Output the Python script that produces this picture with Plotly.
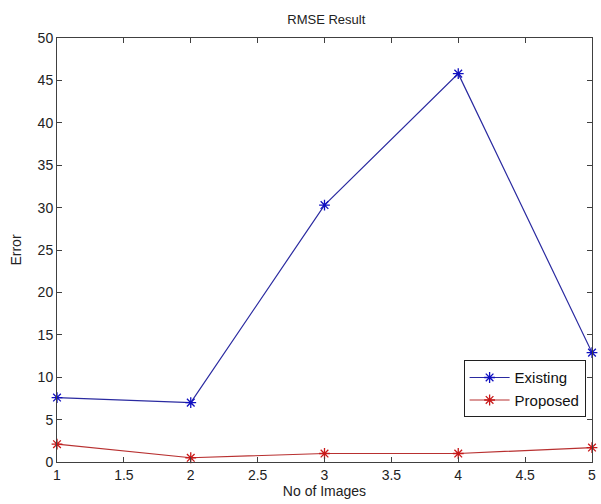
import plotly.graph_objects as go

num_images = [1, 2, 3, 4, 5]
existing = [7.6, 7.0, 30.3, 45.8, 12.9]
proposed = [2.1, 0.5, 1.0, 1.0, 1.7]
x_ticks = [1, 1.5, 2, 2.5, 3, 3.5, 4, 4.5, 5]
x_tick_labels = ["1", "1.5", "2", "2.5", "3", "3.5", "4", "4.5", "5"]
y_ticks = [0, 5, 10, 15, 20, 25, 30, 35, 40, 45, 50]

font_family = "Liberation Sans, Arial, sans-serif"

fig = go.Figure()
fig.add_trace(go.Scatter(
    x=num_images, y=existing, name="Existing", mode="lines+markers",
    line=dict(color="#2a2aa0", width=1.2),
    marker=dict(symbol="asterisk-open", size=9, color="#1010c0",
                line=dict(color="#1010c0", width=1.3)),
    cliponaxis=False,
))
fig.add_trace(go.Scatter(
    x=num_images, y=proposed, name="Proposed", mode="lines+markers",
    line=dict(color="#b83030", width=1.2),
    marker=dict(symbol="asterisk-open", size=9, color="#c81818",
                line=dict(color="#c81818", width=1.3)),
    cliponaxis=False,
))

axis_common = dict(
    showline=True, linecolor="#404040", linewidth=1, mirror="allticks",
    ticks="inside", ticklen=5, tickcolor="#404040", showgrid=False,
    zeroline=False, tickfont=dict(family=font_family, size=14, color="#222"),
)

fig.update_layout(
    width=601, height=504,
    margin=dict(l=57, r=5, t=38, b=42),
    paper_bgcolor="white", plot_bgcolor="white",
    title=dict(text="RMSE Result", x=0.543, xanchor="center", y=0.962, yanchor="middle",
               font=dict(family=font_family, size=13, color="#222")),
    xaxis=dict(range=[1, 5], tickvals=x_ticks, ticktext=x_tick_labels,
               title=dict(text="No of Images", standoff=4,
                          font=dict(family=font_family, size=14, color="#222")),
               **axis_common),
    yaxis=dict(range=[0, 50], tickvals=y_ticks,
               title=dict(text="Error", standoff=12,
                          font=dict(family=font_family, size=14, color="#222")),
               **axis_common),
    legend=dict(x=0.76, y=0.24, xanchor="left", yanchor="top",
                bordercolor="#202020", borderwidth=1, bgcolor="white",
                font=dict(family=font_family, size=15, color="#111"),
                tracegroupgap=0, itemwidth=40),
    showlegend=True,
)

fig.write_html(
    "out.html",
    config={"displayModeBar": False},
    post_script="document.body.style.margin='0';document.body.style.overflow='hidden';",
)
